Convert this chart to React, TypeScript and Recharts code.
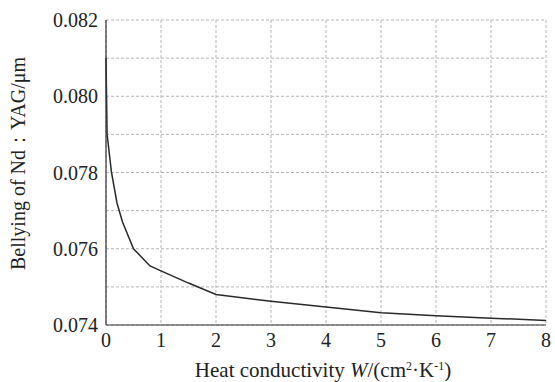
import React from 'react';
import { LineChart, Line, XAxis, YAxis, CartesianGrid, Label } from 'recharts';

// heat conductivity (W/(cm²·K))
const conductivity = [0, 0.02, 0.1, 0.2, 0.3, 0.5, 0.8, 1, 1.5, 2, 3, 4, 5, 6, 7, 8];
// bellying of Nd:YAG (μm)
const bellying = [0.081, 0.079, 0.078, 0.0772, 0.0767, 0.076, 0.07555, 0.07542, 0.0751, 0.0748, 0.07462, 0.07447, 0.07432, 0.07424, 0.07418, 0.07412];

const xTicks = [0, 1, 2, 3, 4, 5, 6, 7, 8];
const yTicks = [0.074, 0.075, 0.076, 0.077, 0.078, 0.079, 0.08, 0.081, 0.082];

const FONT = '"Liberation Serif", "Times New Roman", serif';
const INK = '#222';

const data = conductivity.map((x, i) => ({ x, y: bellying[i] }));

const yLabel = (v: number) => (Math.round(v * 1000) % 2 === 0 ? v.toFixed(3) : '');

const YTitle = ({ viewBox }: any) => {
    const x = viewBox.x + 18;
    const y = viewBox.y + viewBox.height / 2 - 9;
    return (
        <text x={x} y={y} transform={`rotate(-90, ${x}, ${y})`} textAnchor="middle" dominantBaseline="central"
            fontFamily={FONT} fontSize={20} fill={INK}>
            Bellying of Nd：YAG/μm
        </text>
    );
};

const XTitle = ({ viewBox }: any) => {
    const x = viewBox.x + viewBox.width / 2 - 3;
    const y = 377;
    return (
        <text x={x} y={y} textAnchor="middle" fontFamily={FONT} fontSize={21} fill={INK}>
            Heat conductivity <tspan fontStyle="italic">W</tspan>/(cm
            <tspan fontSize={12} dy={-7}>2</tspan>
            <tspan dy={7}>·K</tspan>
            <tspan fontSize={12} dy={-7}>-1</tspan>
            <tspan dy={7}>)</tspan>
        </text>
    );
};

export default function App() {
    return (
        <div style={{ position: 'absolute', left: 0, top: 0, width: 555, height: 382, background: '#fff' }}>
            <LineChart width={555} height={382} data={data} margin={{ top: 20, right: 9, bottom: 0, left: 0 }}>
                <CartesianGrid stroke="#b5b5b5" strokeDasharray="3 2" />
                <XAxis
                    dataKey="x"
                    type="number"
                    domain={[0, 8]}
                    ticks={xTicks}
                    height={57}
                    tickLine={false}
                    axisLine={{ stroke: '#333', strokeWidth: 1.2 }}
                    tick={{ fontFamily: FONT, fontSize: 20, fill: INK }}
                    interval={0}
                >
                    <Label content={<XTitle />} />
                </XAxis>
                <XAxis xAxisId="top" orientation="top" type="number" domain={[0, 8]} height={0}
                    tick={false} tickLine={false} axisLine={{ stroke: '#333', strokeWidth: 1.2 }} />
                <YAxis
                    type="number"
                    domain={[0.074, 0.082]}
                    ticks={yTicks}
                    width={106}
                    tickLine={false}
                    axisLine={{ stroke: '#333', strokeWidth: 1.2 }}
                    tick={{ fontFamily: FONT, fontSize: 20, fill: INK }}
                    tickFormatter={yLabel}
                    interval={0}
                >
                    <Label content={<YTitle />} />
                </YAxis>
                <YAxis yAxisId="right" orientation="right" type="number" domain={[0, 1]} width={0}
                    tick={false} tickLine={false} axisLine={{ stroke: '#333', strokeWidth: 1.2 }} />
                <Line
                    type="linear"
                    dataKey="y"
                    stroke="#2a2a2a"
                    strokeWidth={1.5}
                    dot={false}
                    isAnimationActive={false}
                />
            </LineChart>
        </div>
    );
}
